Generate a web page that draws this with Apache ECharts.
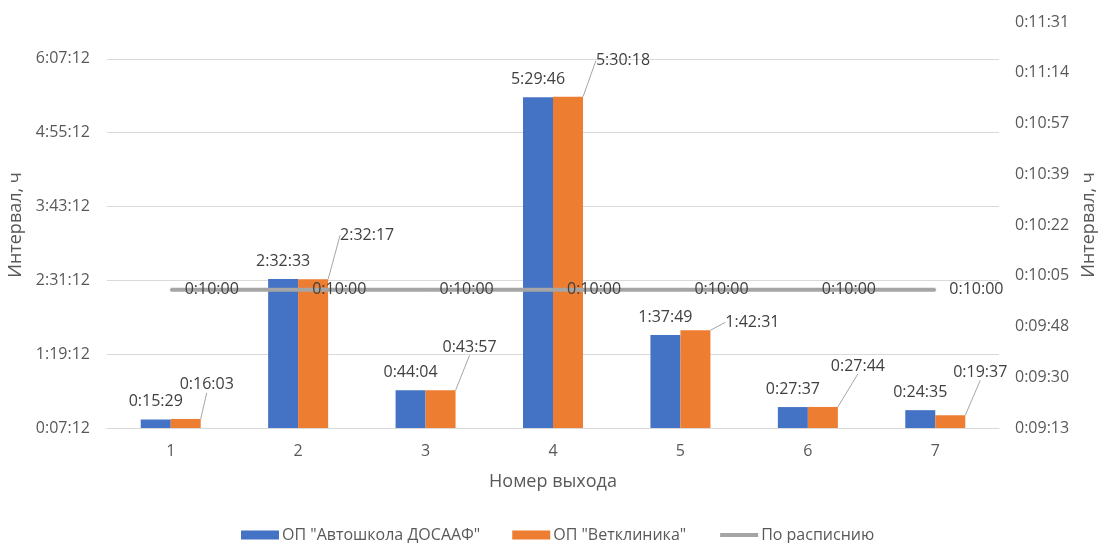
<!DOCTYPE html>
<html lang="ru">
<head>
<meta charset="utf-8">
<title>Интервал по номерам выходов</title>
<script src="https://cdn.jsdelivr.net/npm/echarts@6/dist/echarts.min.js"></script>
<style>
  html, body { margin: 0; padding: 0; background: #ffffff; }
  #chart { width: 1099px; height: 543px; }
</style>
</head>
<body>
<div id="chart"></div>
<script>
// Exit numbers along the horizontal axis
const categories = ['1', '2', '3', '4', '5', '6', '7'];

// Measured intervals per exit, h:mm:ss
const autoschool = ['0:15:29', '2:32:33', '0:44:04', '5:29:46', '1:37:49', '0:27:37', '0:24:35'];
const vetclinic  = ['0:16:03', '2:32:17', '0:43:57', '5:30:18', '1:42:31', '0:27:44', '0:19:37'];
// Scheduled interval (secondary axis)
const schedule   = ['0:10:00', '0:10:00', '0:10:00', '0:10:00', '0:10:00', '0:10:00', '0:10:00'];

// Series names
const seriesNames = ['ОП "Автошкола ДОСААФ"', 'ОП "Ветклиника"', 'По расписнию'];

// Axis ranges, in fractions of a day (spreadsheet time units)
const leftAxisDays  = { min: 0.005,  max: 0.28,  step: 0.05 };
const rightAxisDays = { min: 0.0064, max: 0.008, step: 0.0002 };

// Hand-placed offsets of the second series' labels (px), drawn with leader lines
const vetLabelShift = [[21, -16], [54, -26], [29, -25], [55, -18], [57, 10], [35, -23], [30, -25]];

const DAY = 86400;
function toSeconds(t) {
  const p = t.split(':').map(Number);
  return p[0] * 3600 + p[1] * 60 + p[2];
}
function fmt(sec) {
  const s = Math.round(sec);
  const h = Math.floor(s / 3600);
  const m = Math.floor((s % 3600) / 60);
  const r = s % 60;
  return h + ':' + String(m).padStart(2, '0') + ':' + String(r).padStart(2, '0');
}

const FONT = 'Open Sans';
const AXIS_TEXT = '#595959';
const LABEL_TEXT = '#404040';
const GRID_COLOR = '#D9D9D9';
const LINE_GRAY = '#A5A5A5';

const chart = echarts.init(document.getElementById('chart'), null, { renderer: 'canvas' });

const labelBase = {
  show: true,
  fontFamily: FONT,
  fontSize: 16,
  color: LABEL_TEXT,
  formatter: p => fmt(p.value)
};

chart.setOption({
  animation: false,
  backgroundColor: '#ffffff',
  textStyle: { fontFamily: FONT },
  grid: { left: 107, right: 100, top: 22, bottom: 115, containLabel: false, outerBoundsMode: 'none' },
  legend: {
    top: 522,
    left: 236,
    itemWidth: 38,
    itemHeight: 9,
    itemGap: 32,
    textStyle: { fontFamily: FONT, fontSize: 16, color: AXIS_TEXT, padding: [0, 0, 0, -2] },
    data: [
      { name: seriesNames[0], icon: 'rect' },
      { name: seriesNames[1], icon: 'rect' },
      { name: seriesNames[2], itemStyle: { opacity: 0 }, lineStyle: { width: 4, color: LINE_GRAY } }
    ]
  },
  xAxis: {
    type: 'category',
    data: categories,
    name: 'Номер выхода',
    nameLocation: 'middle',
    nameGap: 45,
    nameTextStyle: { fontFamily: FONT, fontSize: 18, color: AXIS_TEXT },
    axisLine: { show: true, lineStyle: { color: GRID_COLOR, width: 1 } },
    axisTick: { show: false },
    axisLabel: { fontFamily: FONT, fontSize: 16, color: AXIS_TEXT, margin: 15 },
    splitLine: { show: false }
  },
  yAxis: [
    {
      type: 'value',
      position: 'left',
      min: leftAxisDays.min * DAY,
      max: leftAxisDays.max * DAY,
      interval: leftAxisDays.step * DAY,
      name: 'Интервал, ч',
      nameLocation: 'middle',
      nameRotate: 90,
      nameGap: 75,
      nameTextStyle: { fontFamily: FONT, fontSize: 18, color: AXIS_TEXT },
      axisLine: { show: false },
      axisTick: { show: false },
      axisLabel: { fontFamily: FONT, fontSize: 16, color: AXIS_TEXT, margin: 17, showMaxLabel: false, formatter: v => fmt(v) },
      splitLine: { show: true, showMinLine: false, showMaxLine: false, lineStyle: { color: GRID_COLOR, width: 1 } }
    },
    {
      type: 'value',
      position: 'right',
      min: rightAxisDays.min * DAY,
      max: rightAxisDays.max * DAY,
      interval: rightAxisDays.step * DAY,
      name: 'Интервал, ч',
      nameLocation: 'middle',
      nameRotate: 90,
      nameGap: 78,
      nameTextStyle: { fontFamily: FONT, fontSize: 18, color: AXIS_TEXT },
      axisLine: { show: false },
      axisTick: { show: false },
      axisLabel: { fontFamily: FONT, fontSize: 16, color: AXIS_TEXT, margin: 16, formatter: v => fmt(v) },
      splitLine: { show: false }
    }
  ],
  series: [
    {
      name: seriesNames[0],
      type: 'bar',
      yAxisIndex: 0,
      data: autoschool.map(toSeconds),
      barWidth: 30,
      barGap: '0%',
      itemStyle: { color: '#4472C4' },
      label: Object.assign({}, labelBase, { position: 'top', distance: 10 })
    },
    {
      name: seriesNames[1],
      type: 'bar',
      yAxisIndex: 0,
      data: vetclinic.map(toSeconds),
      barWidth: 30,
      barGap: '0%',
      itemStyle: { color: '#ED7D31' },
      label: Object.assign({}, labelBase, { position: 'top', distance: 10 }),
      labelLayout: p => ({ dx: vetLabelShift[p.dataIndex][0], dy: vetLabelShift[p.dataIndex][1] }),
      labelLine: { show: true, lineStyle: { color: '#A6A6A6', width: 1 } }
    },
    {
      name: seriesNames[2],
      type: 'line',
      yAxisIndex: 1,
      data: schedule.map(toSeconds),
      symbol: 'circle',
      symbolSize: 2,
      showSymbol: true,
      lineStyle: { color: LINE_GRAY, width: 4 },
      itemStyle: { color: LINE_GRAY },
      label: Object.assign({}, labelBase, { position: 'right', distance: 13 }),
      z: 5
    }
  ]
});
</script>
</body>
</html>
